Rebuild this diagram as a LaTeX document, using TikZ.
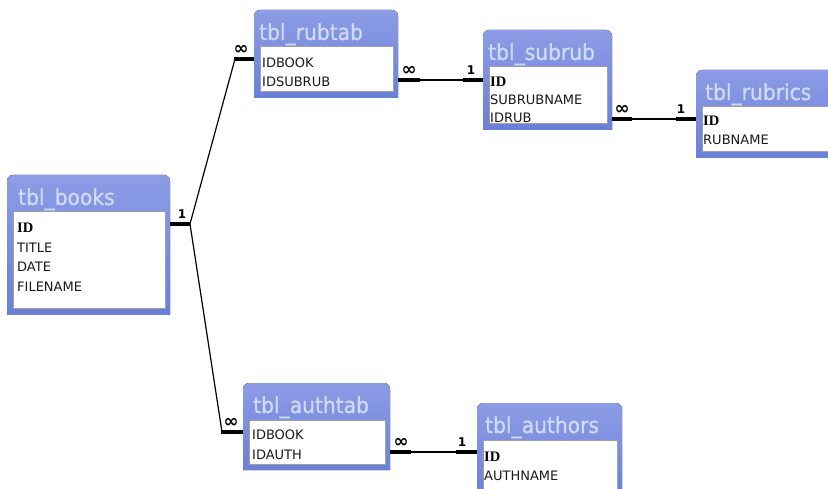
\documentclass[tikz,border=0pt]{standalone}
\usepackage{fontspec}
\setmainfont{DejaVu Sans}
\newfontfamily\hdrfont[FakeStretch=0.92,FakeBold=0.8]{DejaVu Sans}
\newfontfamily\idfont{Liberation Serif}
\newfontfamily\symfont{DejaVu Sans}
\usetikzlibrary{calc}
\definecolor{boxblue}{HTML}{6A7FD8}
\definecolor{hdrtop}{HTML}{8C9CE6}
\definecolor{hdrtext}{HTML}{CFDBF6}
\definecolor{innerborder}{HTML}{A0A0A0}
\definecolor{fieldtext}{HTML}{1A1A1A}
\newcommand\dbtable[7]{%
  \node[tblbox, minimum width=#4pt, minimum height=#5pt] (#1) at (#2,#3) {};
  \fill[tblfill] (#1.south west) [rounded corners=6pt] -- (#1.north west) -- (#1.north east) [sharp corners] -- (#1.south east) -- cycle;
  \node[tbltitle] (#1-title) at ([xshift=#7pt,yshift=-30pt]#1.north west) {#6};
  \node[tblinner, minimum width=#4pt-11pt, minimum height=#5pt-43pt] (#1-inner) at ([xshift=6pt,yshift=-37pt]#1.north west) {};
}
\begin{document}
\begin{tikzpicture}[x=1pt,y=-1pt,
  tblbox/.style={rectangle, inner sep=0pt, outer sep=0pt, anchor=north west, draw=none},
  tblfill/.style={top color=hdrtop, bottom color=boxblue},
  tbltitle/.style={anchor=base west, inner sep=0pt, text=hdrtext, font=\hdrfont\fontsize{22}{22}\selectfont},
  tblinner/.style={rectangle, inner sep=0pt, outer sep=0pt, anchor=north west, fill=white, draw=innerborder, line width=1pt},
  field/.style={anchor=west, inner sep=0pt, text=fieldtext, font=\fontsize{13}{13}\selectfont},
  idfield/.style={anchor=west, inner sep=0pt, text=black, font=\idfont\bfseries\fontsize{14.5}{14.5}\selectfont},
  thinline/.style={draw=black, line width=1.2pt},
  thickline/.style={draw=black, line width=3.6pt},
  cardone/.style={inner sep=0pt, font=\bfseries\fontsize{12}{12}\selectfont},
  cardmany/.style={inner sep=0pt, font=\symfont\bfseries\fontsize{18}{18}\selectfont}
]
\useasboundingbox (0,0) rectangle (828,489);
\clip (0,0) rectangle (828,489);
\fill[white] (0,0) rectangle (828,489);

% tables
\dbtable{books}{7}{175}{163}{140}{tbl\_books}{11}
\dbtable{rubtab}{254}{10}{144}{88}{tbl\_rubtab}{5}
\dbtable{subrub}{483}{30}{129}{100}{tbl\_subrub}{5}
\dbtable{rubrics}{696}{70}{145}{88}{tbl\_rubrics}{9}
\dbtable{authtab}{243}{383}{147}{87}{tbl\_authtab}{10}
\dbtable{authors}{477}{403}{145}{95}{tbl\_authors}{8}

% fields
\node[idfield] (books-f1) at (17,228) {ID};
\node[field] (books-f2) at (17,248) {TITLE};
\node[field] (books-f3) at (17,267) {DATE};
\node[field] (books-f4) at (17,287) {FILENAME};

\node[field] (rubtab-f1) at (262,63) {IDBOOK};
\node[field] (rubtab-f2) at (262,82) {IDSUBRUB};

\node[idfield] (subrub-f1) at (490,82) {ID};
\node[field] (subrub-f2) at (490,100) {SUBRUBNAME};
\node[field] (subrub-f3) at (490,118) {IDRUB};

\node[idfield] (rubrics-f1) at (703,121) {ID};
\node[field] (rubrics-f2) at (703,140) {RUBNAME};

\node[field] (authtab-f1) at (252,435) {IDBOOK};
\node[field] (authtab-f2) at (252,455) {IDAUTH};

\node[idfield] (authors-f1) at (484,457) {ID};
\node[field] (authors-f2) at (484,476) {AUTHNAME};

% connectors
\coordinate (jb) at (190,224);
\coordinate (rtL) at (235,59);
\coordinate (atL) at (222,432);
\draw[thickline] (books.east |- jb) -- (jb);
\draw[thinline] (jb) -- (rtL);
\draw[thickline] ([xshift=-1pt]rtL) -- (rtL -| rubtab.west);
\draw[thinline] (jb) -- (atL);
\draw[thickline] ([xshift=-1pt]atL) -- (atL -| authtab.west);

\coordinate (rs1) at (420,80);
\coordinate (rs2) at (463,80);
\draw[thickline] (rubtab.east |- rs1) -- (rs1);
\draw[thinline] (rs1) -- (rs2);
\draw[thickline] (rs2) -- (rs2 -| subrub.west);

\coordinate (sr1) at (632,119);
\coordinate (sr2) at (676,119);
\draw[thickline] (subrub.east |- sr1) -- (sr1);
\draw[thinline] (sr1) -- (sr2);
\draw[thickline] (sr2) -- (sr2 -| rubrics.west);

\coordinate (aa1) at (411,452);
\coordinate (aa2) at (456,452);
\draw[thickline] (authtab.east |- aa1) -- (aa1);
\draw[thinline] (aa1) -- (aa2);
\draw[thickline] (aa2) -- (aa2 -| authors.west);

% cardinality labels
\node[cardone] (c1) at (182,214) {1};
\node[cardmany] (c2) at (241,50) {∞};
\node[cardmany] (c3) at (409,71) {∞};
\node[cardone] (c4) at (471,70) {1};
\node[cardmany] (c5) at (622,110) {∞};
\node[cardone] (c6) at (681,109) {1};
\node[cardmany] (c7) at (231,423) {∞};
\node[cardmany] (c8) at (401,443) {∞};
\node[cardone] (c9) at (462,442) {1};
\end{tikzpicture}
\end{document}
